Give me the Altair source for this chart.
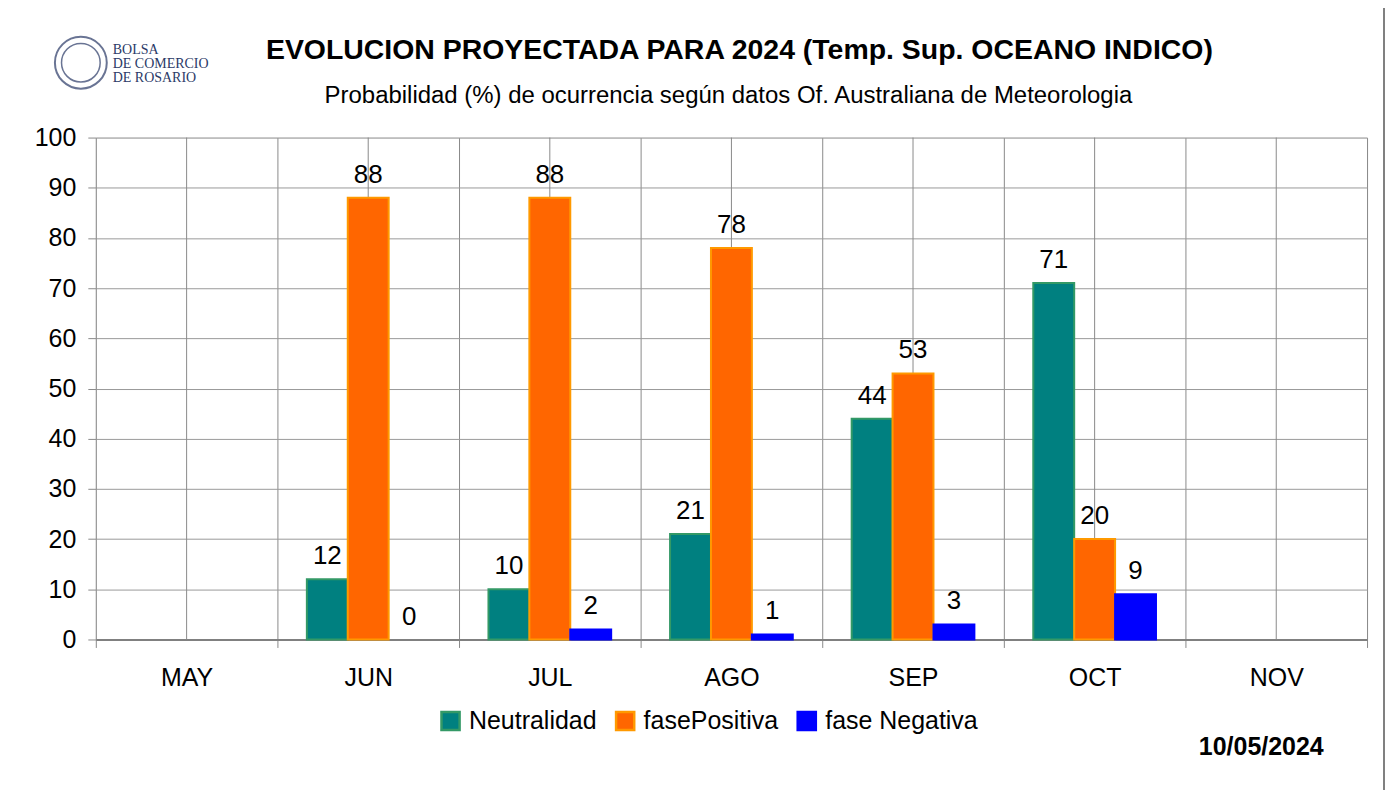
import altair as alt
import pandas as pd

months = ["MAY", "JUN", "JUL", "AGO", "SEP", "OCT", "NOV"]
series = ["Neutralidad", "fasePositiva", "fase Negativa"]
neutralidad = [None, 12, 10, 21, 44, 71, None]
fase_positiva = [None, 88, 88, 78, 53, 20, None]
fase_negativa = [None, 0, 2, 1, 3, 9, None]
fills = ["#008080", "#FF6600", "#0000FF"]
strokes = ["#339966", "#FF9900", "#0000FF"]
y_ticks = list(range(0, 101, 10))

title_text = "EVOLUCION PROYECTADA PARA 2024 (Temp. Sup. OCEANO INDICO)"
subtitle_text = "Probabilidad (%) de ocurrencia según datos Of. Australiana de Meteorologia"
date_text = "10/05/2024"
logo_lines = ["BOLSA", "DE COMERCIO", "DE ROSARIO"]

rows = []
for i, m in enumerate(months):
    for s, vals in zip(series, [neutralidad, fase_positiva, fase_negativa]):
        v = vals[i]
        if v is not None:
            rows.append({"month": m, "serie": s, "value": v})
df = pd.DataFrame(rows)

W, H = 1274, 503
PL, PT = 88, 129
TOTAL_W = 1380
FONT = "Liberation Sans"

x_scale = alt.Scale(domain=months, paddingInner=0, paddingOuter=0)
x_axis = alt.Axis(title=None, tickBand="extent", grid=True, gridColor="#8a8a8a",
                  gridWidth=1, tickColor="#8a8a8a", tickSize=8, domainColor="#808080",
                  domainWidth=2, labelFontSize=25, labelFont=FONT, labelColor="black",
                  labelPadding=18, labelAngle=0)
y_scale = alt.Scale(domain=[0, 100], nice=False)
y_axis = alt.Axis(title=None, values=y_ticks, grid=True, gridColor="#9a9a9a",
                  tickColor="#8a8a8a", tickSize=8, domain=False, labelFontSize=25,
                  labelFont=FONT, labelColor="black", labelPadding=12)
xo_scale = alt.Scale(domain=series, paddingInner=0, paddingOuter=0.72)

color_scale = alt.Scale(domain=series, range=fills)
stroke_scale = alt.Scale(domain=series, range=strokes)

base = alt.Chart(df)

center_rules = alt.Chart(pd.DataFrame({"month": months})).mark_rule(
    color="#8a8a8a", strokeWidth=1
).encode(x=alt.X("month:N", scale=x_scale, axis=x_axis, bandPosition=0.5))

legend = alt.Legend(title=None, orient="none", legendX=343, legendY=572,
                    direction="horizontal", symbolType="square", symbolSize=330,
                    symbolStrokeWidth=2.5, labelFontSize=25, labelFont=FONT,
                    labelColor="black", labelOffset=6, columnPadding=14)

bars = base.mark_bar(strokeWidth=2).encode(
    x=alt.X("month:N", scale=x_scale, axis=x_axis),
    xOffset=alt.XOffset("serie:N", scale=xo_scale, sort=series),
    y=alt.Y("value:Q", scale=y_scale, axis=y_axis),
    fill=alt.Fill("serie:N", scale=color_scale, legend=legend, sort=series),
    stroke=alt.Stroke("serie:N", scale=stroke_scale, legend=legend, sort=series),
).transform_filter("datum.value > 0")

labels = base.mark_text(baseline="alphabetic", dy=-15, fontSize=26, font=FONT,
                        color="black").encode(
    x=alt.X("month:N", scale=x_scale, axis=x_axis),
    xOffset=alt.XOffset("serie:N", scale=xo_scale, sort=series),
    y=alt.Y("value:Q", scale=y_scale, axis=y_axis),
    text=alt.Text("value:Q"),
)


def text_layer(txt, x, y, **kw):
    return alt.Chart(pd.DataFrame({"t": [txt]})).mark_text(
        baseline="alphabetic", **kw
    ).encode(x=alt.value(x), y=alt.value(y), text="t:N")


title = text_layer(title_text, 645, -79, fontSize=28.5, fontWeight="bold",
                   font=FONT, color="black")
subtitle = text_layer(subtitle_text, 634, -35, fontSize=24, font=FONT,
                      color="black")
date = text_layer(date_text, 1168, 619, fontSize=25, fontWeight="bold",
                  font=FONT, color="black")

logo_layers = [
    text_layer(line, 17, -84 + 14 * i, fontSize=14, font="Liberation Serif",
               color="#2B3A67", align="left")
    for i, line in enumerate(logo_lines)
]

logo_outer = alt.Chart(pd.DataFrame({"k": [0]})).mark_point(
    shape="circle", filled=False, stroke="#2B3A67", strokeWidth=2, size=2700
).encode(x=alt.value(-15), y=alt.value(-75))
logo_inner = alt.Chart(pd.DataFrame({"k": [0]})).mark_point(
    shape="circle", filled=False, stroke="#2B3A67", strokeWidth=1.5, size=1500
).encode(x=alt.value(-15), y=alt.value(-75))

frame = alt.Chart(pd.DataFrame({"k": [0]})).mark_rect(
    fillOpacity=0, stroke="#808080", strokeWidth=2
).encode(x=alt.value(-PL - 1), x2=alt.value(TOTAL_W - PL - 1),
         y=alt.value(-PT - 2), y2=alt.value(720))

chart = alt.layer(
    center_rules, bars, labels, title, subtitle, date, logo_outer, logo_inner,
    *logo_layers, frame
).properties(
    width=W, height=H,
    autosize=alt.AutoSizeParams(type="none"),
    padding={"left": PL, "top": PT, "right": TOTAL_W - PL - W, "bottom": 150},
).configure_view(
    fill="#CCFFCC", stroke="#808080", strokeWidth=2
).configure(background="white")

chart.save("out.html", embed_options={"renderer": "svg", "actions": False})
